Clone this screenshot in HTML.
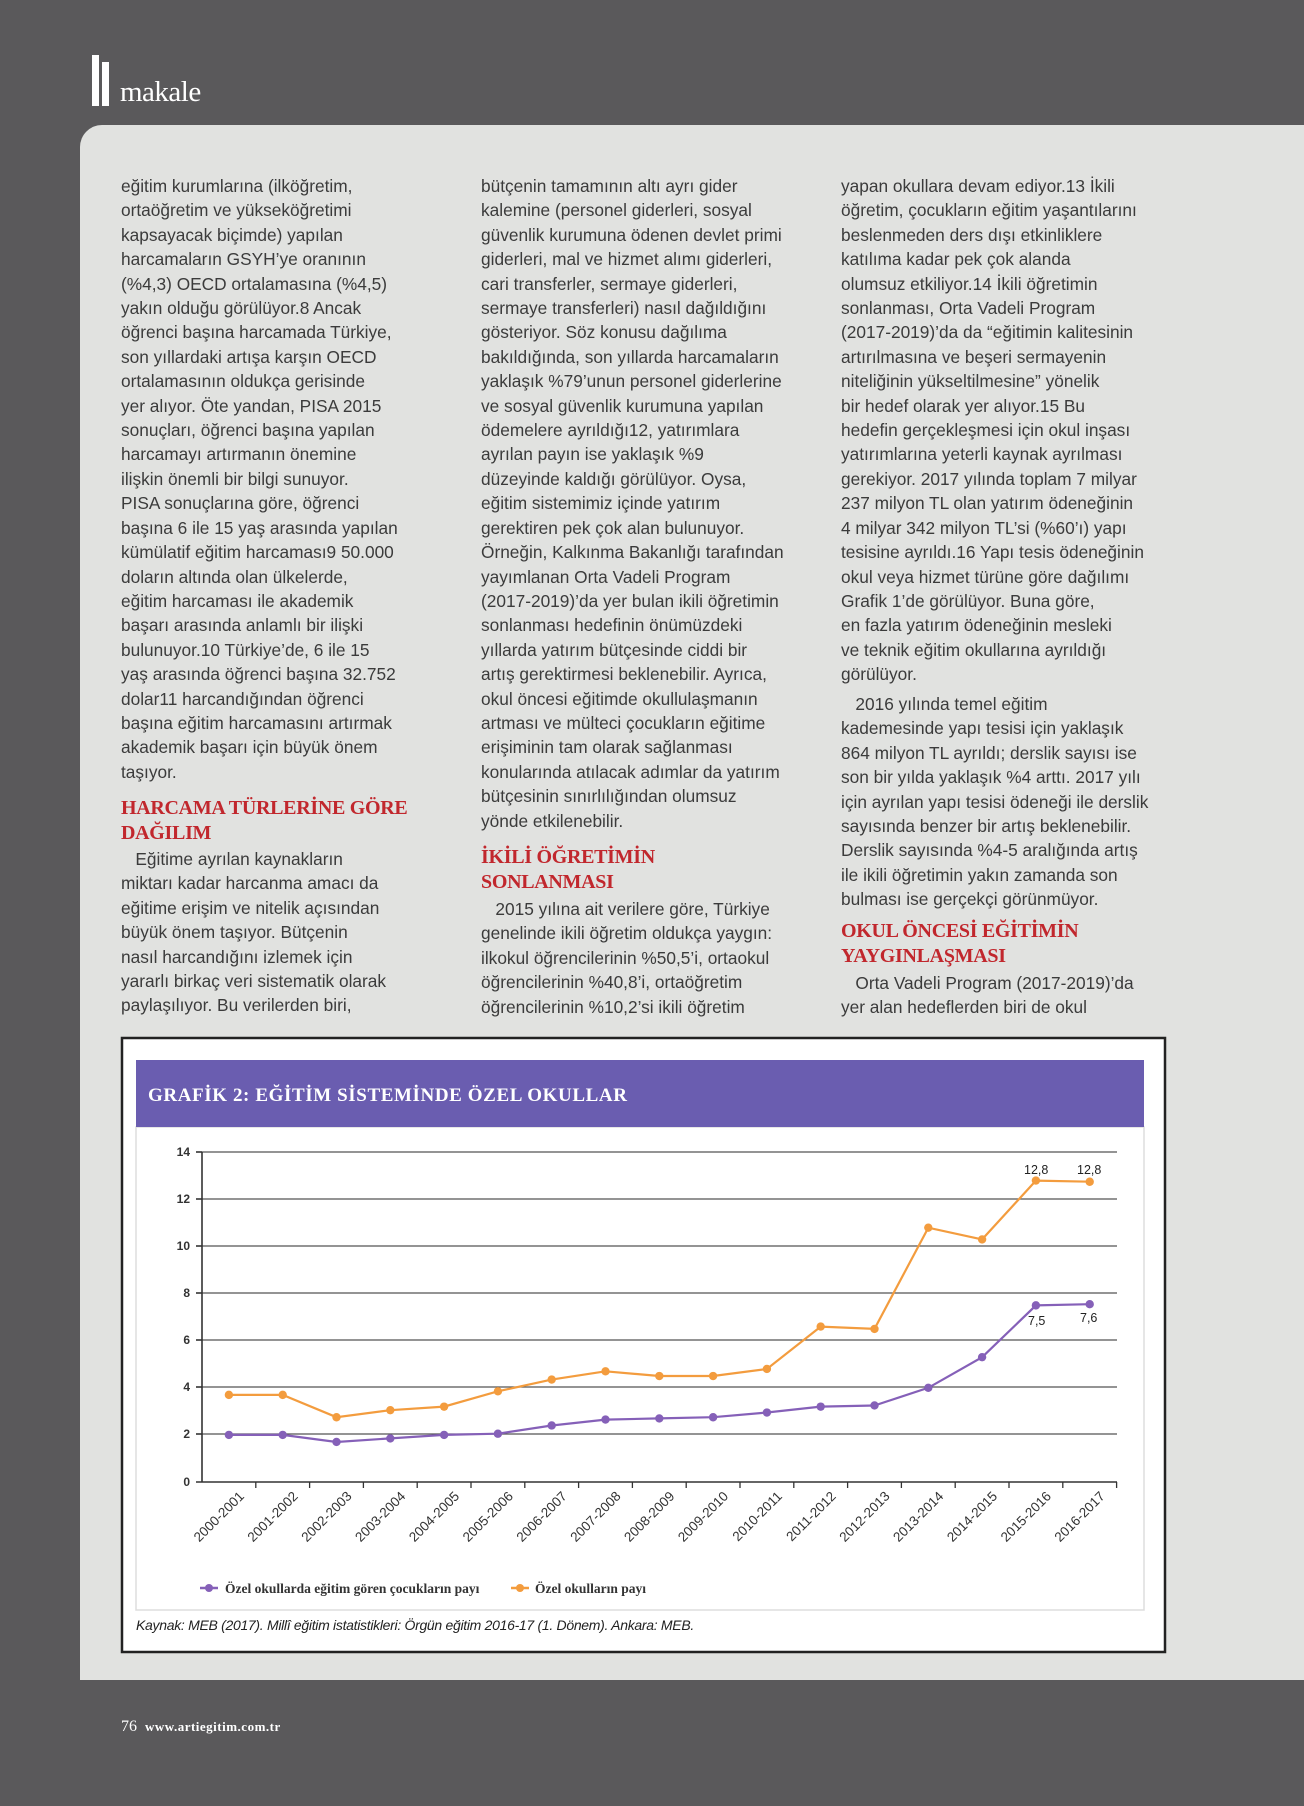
<!DOCTYPE html>
<html><head><meta charset="utf-8">
<style>
html,body{margin:0;padding:0;}
body{width:1304px;height:1806px;background:#5a595b;position:relative;overflow:hidden;font-family:"Liberation Sans",sans-serif;}
.panel{position:absolute;left:80px;top:125px;width:1224px;height:1555px;background:#e1e2e0;border-top-left-radius:22px;}
.bar{position:absolute;background:#fff;top:55px;height:51px;width:7px;}
.mak{position:absolute;left:120px;top:76px;color:#fff;font-family:"Liberation Serif",serif;font-size:29px;letter-spacing:-0.5px;}
.t{position:absolute;color:#3b3b3b;font-size:17.3px;line-height:24.4px;white-space:nowrap;}
.h{position:absolute;color:#c1272d;font-family:"Liberation Serif",serif;font-weight:bold;font-size:20px;line-height:25px;white-space:nowrap;letter-spacing:-0.3px;}
.foot{position:absolute;left:121px;top:1718px;color:#fff;font-size:16px;font-family:"Liberation Serif",serif;}
.foot b{font-size:13px;letter-spacing:0.5px;}
</style></head><body>
<div class="bar" style="left:92px"></div><div class="bar" style="left:102px;top:62px;height:44px"></div>
<div class="mak">makale</div>
<div class="panel"></div>

<div class="t" style="left:121px;top:174px">eğitim kurumlarına (ilköğretim,<br>ortaöğretim ve yükseköğretimi<br>kapsayacak biçimde) yapılan<br>harcamaların GSYH’ye oranının<br>(%4,3) OECD ortalamasına (%4,5)<br>yakın olduğu görülüyor.8 Ancak<br>öğrenci başına harcamada Türkiye,<br>son yıllardaki artışa karşın OECD<br>ortalamasının oldukça gerisinde<br>yer alıyor. Öte yandan, PISA 2015<br>sonuçları, öğrenci başına yapılan<br>harcamayı artırmanın önemine<br>ilişkin önemli bir bilgi sunuyor.<br>PISA sonuçlarına göre, öğrenci<br>başına 6 ile 15 yaş arasında yapılan<br>kümülatif eğitim harcaması9 50.000<br>doların altında olan ülkelerde,<br>eğitim harcaması ile akademik<br>başarı arasında anlamlı bir ilişki<br>bulunuyor.10 Türkiye’de, 6 ile 15<br>yaş arasında öğrenci başına 32.752<br>dolar11 harcandığından öğrenci<br>başına eğitim harcamasını artırmak<br>akademik başarı için büyük önem<br>taşıyor.</div>
<div class="h" style="left:121px;top:796px">HARCAMA TÜRLERİNE GÖRE<br>DAĞILIM</div>
<div class="t" style="left:121px;top:847px">&nbsp;&nbsp;&nbsp;Eğitime ayrılan kaynakların<br>miktarı kadar harcanma amacı da<br>eğitime erişim ve nitelik açısından<br>büyük önem taşıyor. Bütçenin<br>nasıl harcandığını izlemek için<br>yararlı birkaç veri sistematik olarak<br>paylaşılıyor. Bu verilerden biri,</div>

<div class="t" style="left:481px;top:174px">bütçenin tamamının altı ayrı gider<br>kalemine (personel giderleri, sosyal<br>güvenlik kurumuna ödenen devlet primi<br>giderleri, mal ve hizmet alımı giderleri,<br>cari transferler, sermaye giderleri,<br>sermaye transferleri) nasıl dağıldığını<br>gösteriyor. Söz konusu dağılıma<br>bakıldığında, son yıllarda harcamaların<br>yaklaşık %79’unun personel giderlerine<br>ve sosyal güvenlik kurumuna yapılan<br>ödemelere ayrıldığı12, yatırımlara<br>ayrılan payın ise yaklaşık %9<br>düzeyinde kaldığı görülüyor. Oysa,<br>eğitim sistemimiz içinde yatırım<br>gerektiren pek çok alan bulunuyor.<br>Örneğin, Kalkınma Bakanlığı tarafından<br>yayımlanan Orta Vadeli Program<br>(2017-2019)’da yer bulan ikili öğretimin<br>sonlanması hedefinin önümüzdeki<br>yıllarda yatırım bütçesinde ciddi bir<br>artış gerektirmesi beklenebilir. Ayrıca,<br>okul öncesi eğitimde okullulaşmanın<br>artması ve mülteci çocukların eğitime<br>erişiminin tam olarak sağlanması<br>konularında atılacak adımlar da yatırım<br>bütçesinin sınırlılığından olumsuz<br>yönde etkilenebilir.</div>
<div class="h" style="left:481px;top:845px">İKİLİ ÖĞRETİMİN<br>SONLANMASI</div>
<div class="t" style="left:481px;top:897px">&nbsp;&nbsp;&nbsp;2015 yılına ait verilere göre, Türkiye<br>genelinde ikili öğretim oldukça yaygın:<br>ilkokul öğrencilerinin %50,5’i, ortaokul<br>öğrencilerinin %40,8’i, ortaöğretim<br>öğrencilerinin %10,2’si ikili öğretim</div>

<div class="t" style="left:841px;top:174px">yapan okullara devam ediyor.13 İkili<br>öğretim, çocukların eğitim yaşantılarını<br>beslenmeden ders dışı etkinliklere<br>katılıma kadar pek çok alanda<br>olumsuz etkiliyor.14 İkili öğretimin<br>sonlanması, Orta Vadeli Program<br>(2017-2019)’da da “eğitimin kalitesinin<br>artırılmasına ve beşeri sermayenin<br>niteliğinin yükseltilmesine” yönelik<br>bir hedef olarak yer alıyor.15 Bu<br>hedefin gerçekleşmesi için okul inşası<br>yatırımlarına yeterli kaynak ayrılması<br>gerekiyor. 2017 yılında toplam 7 milyar<br>237 milyon TL olan yatırım ödeneğinin<br>4 milyar 342 milyon TL’si (%60’ı) yapı<br>tesisine ayrıldı.16 Yapı tesis ödeneğinin<br>okul veya hizmet türüne göre dağılımı<br>Grafik 1’de görülüyor. Buna göre,<br>en fazla yatırım ödeneğinin mesleki<br>ve teknik eğitim okullarına ayrıldığı<br>görülüyor.</div>
<div class="t" style="left:841px;top:692px">&nbsp;&nbsp;&nbsp;2016 yılında temel eğitim<br>kademesinde yapı tesisi için yaklaşık<br>864 milyon TL ayrıldı; derslik sayısı ise<br>son bir yılda yaklaşık %4 arttı. 2017 yılı<br>için ayrılan yapı tesisi ödeneği ile derslik<br>sayısında benzer bir artış beklenebilir.<br>Derslik sayısında %4-5 aralığında artış<br>ile ikili öğretimin yakın zamanda son<br>bulması ise gerçekçi görünmüyor.</div>
<div class="h" style="left:841px;top:919px">OKUL ÖNCESİ EĞİTİMİN<br>YAYGINLAŞMASI</div>
<div class="t" style="left:841px;top:971px">&nbsp;&nbsp;&nbsp;Orta Vadeli Program (2017-2019)’da<br>yer alan hedeflerden biri de okul</div>

<svg width="1304" height="1806" style="position:absolute;left:0;top:0" xmlns="http://www.w3.org/2000/svg" font-family="Liberation Sans, sans-serif">
<rect x="122" y="1038" width="1043" height="614" fill="#fff" stroke="#222" stroke-width="2.5"/>
<rect x="136" y="1127" width="1008" height="483" fill="#fff" stroke="#ddd" stroke-width="1.5"/>
<rect x="136" y="1060" width="1008" height="67" fill="#6a5db0"/>
<text x="148" y="1101" fill="#fff" font-family="Liberation Serif, serif" font-weight="bold" font-size="19" letter-spacing="0.6">GRAFİK 2: EĞİTİM SİSTEMİNDE ÖZEL OKULLAR</text>
<g stroke="#555" stroke-width="1.3">
<line x1="202" y1="1152" x2="1117" y2="1152"/><line x1="202" y1="1199" x2="1117" y2="1199"/><line x1="202" y1="1246" x2="1117" y2="1246"/><line x1="202" y1="1293" x2="1117" y2="1293"/><line x1="202" y1="1340" x2="1117" y2="1340"/><line x1="202" y1="1387" x2="1117" y2="1387"/><line x1="202" y1="1434" x2="1117" y2="1434"/>
</g>
<g stroke="#333" stroke-width="1.6">
<line x1="202" y1="1152" x2="202" y2="1482"/><line x1="196" y1="1482" x2="1117" y2="1482"/>
<line x1="196" y1="1152" x2="202" y2="1152"/><line x1="196" y1="1199" x2="202" y2="1199"/><line x1="196" y1="1246" x2="202" y2="1246"/><line x1="196" y1="1293" x2="202" y2="1293"/><line x1="196" y1="1340" x2="202" y2="1340"/><line x1="196" y1="1387" x2="202" y2="1387"/><line x1="196" y1="1434" x2="202" y2="1434"/>
</g>
<g id="ticks" stroke="#333" stroke-width="1.3"></g>
<g font-size="12" fill="#333" text-anchor="end" font-weight="bold">
<text x="190" y="1156">14</text><text x="190" y="1203">12</text><text x="190" y="1250">10</text><text x="190" y="1297">8</text><text x="190" y="1344">6</text><text x="190" y="1391">4</text><text x="190" y="1438">2</text><text x="190" y="1486">0</text>
</g>
<g id="xl" font-size="13.5" fill="#333" text-anchor="end"></g>
<polyline id="or" fill="none" stroke="#f39c3e" stroke-width="2.2"/>
<polyline id="pu" fill="none" stroke="#8560b8" stroke-width="2.2"/>
<g id="dots"></g>
<g font-size="12.5" fill="#222">
<text x="1024" y="1174">12,8</text><text x="1077" y="1174">12,8</text>
<text x="1028" y="1325">7,5</text><text x="1080" y="1322">7,6</text>
</g>
<line x1="200" y1="1588" x2="218" y2="1588" stroke="#8560b8" stroke-width="2.5"/><circle cx="209" cy="1588" r="4" fill="#8560b8"/>
<text x="225" y="1593" font-family="Liberation Serif, serif" font-weight="bold" font-size="13.5" fill="#333">Özel okullarda eğitim gören çocukların payı</text>
<line x1="511" y1="1588" x2="529" y2="1588" stroke="#f39c3e" stroke-width="2.5"/><circle cx="520" cy="1588" r="4" fill="#f39c3e"/>
<text x="535" y="1593" font-family="Liberation Serif, serif" font-weight="bold" font-size="13.5" fill="#333">Özel okulların payı</text>
<text x="136" y="1630" font-style="italic" font-size="14" fill="#222" letter-spacing="-0.3">Kaynak: MEB (2017). Millî eğitim istatistikleri: Örgün eğitim 2016-17 (1. Dönem). Ankara: MEB.</text>
</svg>
<div class="foot">76 &nbsp;<b>www.artiegitim.com.tr</b></div>
<script>
var labels=[];for(var i=0;i<17;i++){labels.push((2000+i)+"-"+(2001+i));}
var o=[3.7,3.7,2.75,3.05,3.2,3.85,4.35,4.7,4.5,4.5,4.8,6.6,6.5,10.8,10.3,12.8,12.75];
var p=[2,2,1.7,1.85,2,2.05,2.4,2.65,2.7,2.75,2.95,3.2,3.25,4,5.3,7.5,7.55];
var X=function(i){return 228.9+53.8*i},Y=function(v){return 1482-v*23.55};
var ns="http://www.w3.org/2000/svg";
function pts(a){return a.map(function(v,i){return X(i).toFixed(1)+","+Y(v).toFixed(1)}).join(" ")}
document.getElementById("or").setAttribute("points",pts(o));
document.getElementById("pu").setAttribute("points",pts(p));
var d=document.getElementById("dots"),t=document.getElementById("ticks"),xl=document.getElementById("xl");
for(var i=0;i<17;i++){
 [[o,"#f39c3e"],[p,"#8560b8"]].forEach(function(s){var c=document.createElementNS(ns,"circle");c.setAttribute("cx",X(i));c.setAttribute("cy",Y(s[0][i]));c.setAttribute("r",4.2);c.setAttribute("fill",s[1]);d.appendChild(c);});
 var l=document.createElementNS(ns,"line");var tx=202+53.8*(i+1);l.setAttribute("x1",tx);l.setAttribute("x2",tx);l.setAttribute("y1",1482);l.setAttribute("y2",1488);t.appendChild(l);
 var tt=document.createElementNS(ns,"text");var lx=X(i)+16,ly=1497;tt.setAttribute("x",lx);tt.setAttribute("y",ly);tt.setAttribute("transform","rotate(-45 "+lx+" "+ly+")");tt.textContent=labels[i];xl.appendChild(tt);
}
</script>
</body></html>
